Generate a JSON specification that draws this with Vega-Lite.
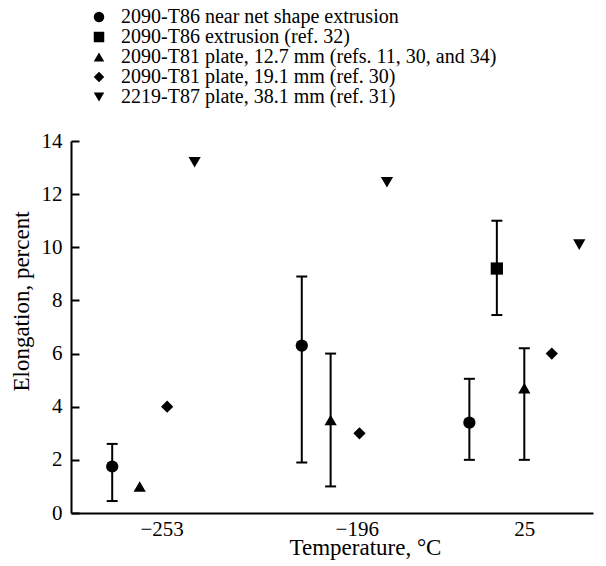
{
  "$schema": "https://vega.github.io/schema/vega-lite/v6.json",
  "autosize": "none",
  "width": 522,
  "height": 372,
  "padding": {"left": 71, "top": 141, "right": 13, "bottom": 53},
  "background": "white",
  "config": {
    "view": {"stroke": null},
    "font": "Liberation Serif",
    "axis": {"labelFont": "Liberation Serif", "titleFont": "Liberation Serif", "labelColor": "black", "titleColor": "black", "domainColor": "black", "domainWidth": 2, "grid": false, "labelFontSize": 21, "titleFontSize": 23, "titleFontWeight": "normal"},
    "legend": {"labelFont": "Liberation Serif", "labelFontSize": 20, "labelColor": "black", "symbolFillColor": "black", "symbolStrokeWidth": 0, "symbolOpacity": 1}
  },
  "data": {
    "values": [
      {"temp": "-253", "series": "2090-T86 near net shape extrusion", "pos": 1.5, "value": 1.75, "lo": 0.45, "hi": 2.6},
      {"temp": "-253", "series": "2090-T81 plate, 12.7 mm (refs. 11, 30, and 34)", "pos": 2.5, "value": 1.0},
      {"temp": "-253", "series": "2090-T81 plate, 19.1 mm (ref. 30)", "pos": 3.5, "value": 4.0},
      {"temp": "-253", "series": "2219-T87 plate, 38.1 mm (ref. 31)", "pos": 4.5, "value": 13.2},
      {"temp": "-196", "series": "2090-T86 near net shape extrusion", "pos": 8.4, "value": 6.3, "lo": 1.9, "hi": 8.9},
      {"temp": "-196", "series": "2090-T81 plate, 12.7 mm (refs. 11, 30, and 34)", "pos": 9.45, "value": 3.5, "lo": 1.0, "hi": 6.0},
      {"temp": "-196", "series": "2090-T81 plate, 19.1 mm (ref. 30)", "pos": 10.5, "value": 3.0},
      {"temp": "-196", "series": "2219-T87 plate, 38.1 mm (ref. 31)", "pos": 11.5, "value": 12.45},
      {"temp": "25", "series": "2090-T86 near net shape extrusion", "pos": 14.5, "value": 3.4, "lo": 2.0, "hi": 5.05},
      {"temp": "25", "series": "2090-T86 extrusion (ref. 32)", "pos": 15.5, "value": 9.2, "lo": 7.45, "hi": 11.0},
      {"temp": "25", "series": "2090-T81 plate, 12.7 mm (refs. 11, 30, and 34)", "pos": 16.5, "value": 4.7, "lo": 2.0, "hi": 6.2},
      {"temp": "25", "series": "2090-T81 plate, 19.1 mm (ref. 30)", "pos": 17.5, "value": 6.0},
      {"temp": "25", "series": "2219-T87 plate, 38.1 mm (ref. 31)", "pos": 18.5, "value": 10.1}
    ]
  },
  "encoding": {
    "x": {
      "field": "pos", "type": "quantitative",
      "scale": {"domain": [0, 19], "nice": false, "zero": false},
      "axis": {
        "title": "Temperature, °C",
        "values": [3.3, 10.4, 16.5],
        "labelExpr": "datum.value < 6 ? '−253' : datum.value < 13 ? '−196' : '25'",
        "ticks": false,
        "grid": false,
        "labelPadding": 5,
        "titleX": 294, "titleY": 41, "titleAlign": "center", "titleBaseline": "alphabetic"
      }
    }
  },
  "layer": [
    {
      "transform": [{"filter": "isValid(datum.lo)"}],
      "mark": {"type": "rule", "color": "black", "strokeWidth": 2},
      "encoding": {
        "y": {"field": "lo", "type": "quantitative", "scale": {"domain": [0, 14], "nice": false}},
        "y2": {"field": "hi"}
      }
    },
    {
      "transform": [{"filter": "isValid(datum.lo)"}],
      "mark": {"type": "tick", "orient": "horizontal", "color": "black", "size": 11, "thickness": 2, "opacity": 1},
      "encoding": {"y": {"field": "lo", "type": "quantitative"}}
    },
    {
      "transform": [{"filter": "isValid(datum.hi)"}],
      "mark": {"type": "tick", "orient": "horizontal", "color": "black", "size": 11, "thickness": 2, "opacity": 1},
      "encoding": {"y": {"field": "hi", "type": "quantitative"}}
    },
    {
      "mark": {"type": "point", "filled": true, "color": "black", "opacity": 1, "size": 150},
      "encoding": {
        "y": {
          "field": "value", "type": "quantitative",
          "scale": {"domain": [0, 14], "nice": false},
          "axis": {
            "title": "Elongation, percent",
            "values": [0,1,2,3,4,5,6,7,8,9,10,11,12,13,14],
            "labelExpr": "datum.value % 2 ? '' : datum.label",
            "ticks": false,
            "grid": true,
            "gridColor": "black",
            "gridWidth": 2,
            "gridOpacity": 1,
            "gridDash": {"condition": {"test": "datum.value % 2 === 1", "value": [4, 1000]}, "value": [8, 1000]},
            "labelPadding": 9,
            "titleX": -50, "titleY": 160, "titleAlign": "center", "titleBaseline": "middle"
          }
        },
        "shape": {
          "field": "series", "type": "nominal",
          "scale": {
            "domain": ["2090-T86 near net shape extrusion", "2090-T86 extrusion (ref. 32)", "2090-T81 plate, 12.7 mm (refs. 11, 30, and 34)", "2090-T81 plate, 19.1 mm (ref. 30)", "2219-T87 plate, 38.1 mm (ref. 31)"],
            "range": ["circle", "square", "triangle-up", "diamond", "triangle-down"]
          },
          "legend": {
            "orient": "none", "legendX": 18, "legendY": -134, "title": null,
            "padding": 0, "symbolSize": 110, "labelOffset": 12, "rowPadding": 0, "labelLimit": 600,
            "labelFont": "Liberation Serif", "labelFontSize": 20
          }
        }
      }
    }
  ]
}
